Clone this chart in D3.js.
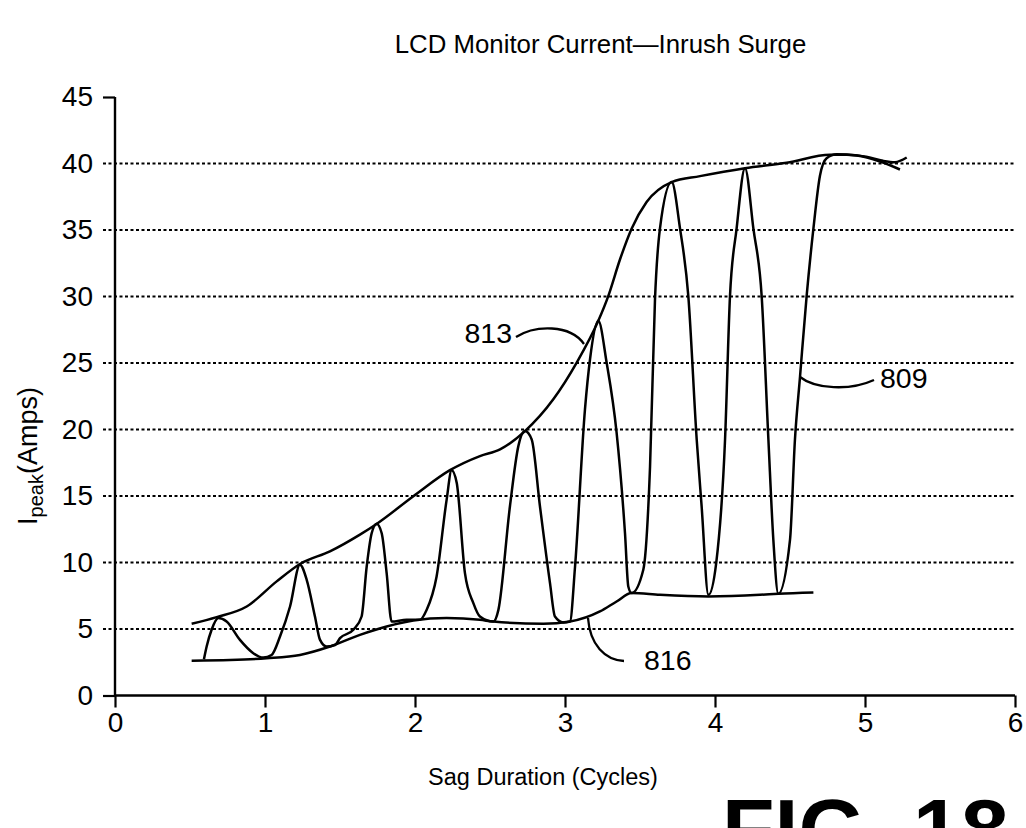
<!DOCTYPE html>
<html>
<head>
<meta charset="utf-8">
<script src="https://cdn.jsdelivr.net/npm/d3@7"></script>
<style>
  body { margin: 0; background: #fff; }
  text { font-family: 'Liberation Sans', Arial, sans-serif; fill: #000; }
</style>
</head>
<body>
<div id="graph"></div>
<script>
const xTicks = [0, 1, 2, 3, 4, 5, 6];
const yTicks = [0, 5, 10, 15, 20, 25, 30, 35, 40, 45];

// upper envelope (813)
const envelope813 = [
  [0.511, 5.39], [0.678, 5.89], [0.878, 6.69], [1.078, 8.58], [1.233, 9.89],
  [1.433, 10.84], [1.633, 12.1], [1.744, 12.9], [1.989, 14.98], [2.233, 16.94],
  [2.433, 18.0], [2.567, 18.5], [2.733, 19.88], [2.922, 22.27], [3.078, 25.03],
  [3.222, 28.17], [3.289, 30.05], [3.367, 32.8], [3.444, 35.1], [3.544, 37.1],
  [3.711, 38.6], [3.9, 39.05], [4.2, 39.65], [4.478, 40.05], [4.767, 40.65],
  [4.878, 40.65], [5.008, 40.5], [5.12, 40.2], [5.2, 40.1], [5.278, 40.45]
];

// lower envelope (816)
const envelope816 = [
  [0.511, 2.62], [0.767, 2.67], [1.011, 2.8], [1.233, 3.05], [1.433, 3.68],
  [1.633, 4.56], [1.811, 5.19], [1.989, 5.64], [2.211, 5.82], [2.433, 5.69],
  [2.522, 5.56], [2.856, 5.39], [3.033, 5.56], [3.233, 6.32], [3.344, 7.07],
  [3.444, 7.7], [3.633, 7.57], [3.956, 7.45], [4.3, 7.57], [4.422, 7.65],
  [4.656, 7.75]
];

// inrush current trace (809)
const current809 = [
  [0.593, 2.73], [0.611, 3.68], [0.644, 4.94], [0.689, 5.82], [0.744, 5.56],
  [0.833, 4.18], [0.922, 3.18], [0.989, 2.85], [1.044, 3.05], [1.1, 4.43],
  [1.167, 6.69], [1.233, 9.83], [1.278, 8.7], [1.333, 5.94], [1.367, 4.18],
  [1.411, 3.68], [1.467, 3.8], [1.5, 4.31], [1.589, 4.94], [1.644, 5.94],
  [1.678, 9.7], [1.711, 12.2], [1.744, 12.92], [1.778, 12.2], [1.811, 9.2],
  [1.844, 5.56], [1.944, 5.69], [2.033, 5.69], [2.078, 6.44], [2.144, 8.95],
  [2.211, 14.73], [2.244, 16.94], [2.278, 16.0], [2.333, 9.2], [2.389, 6.95],
  [2.433, 5.94], [2.522, 5.56], [2.556, 6.44], [2.633, 14.23], [2.689, 18.75],
  [2.733, 19.88], [2.778, 19.25], [2.833, 14.23], [2.9, 8.45], [2.933, 5.94],
  [2.989, 5.49], [3.033, 5.56], [3.067, 9.7], [3.133, 21.5], [3.167, 25.3],
  [3.222, 28.17], [3.278, 25.0], [3.344, 19.76], [3.4, 12.2], [3.422, 8.2],
  [3.444, 7.7], [3.522, 9.46], [3.567, 17.24], [3.6, 29.8], [3.633, 35.1],
  [3.711, 38.6], [3.767, 35.1], [3.822, 30.05], [3.878, 19.25], [3.911, 14.2],
  [3.956, 7.57], [4.008, 9.96], [4.067, 19.25], [4.1, 30.05], [4.144, 35.1],
  [4.2, 39.65], [4.256, 35.1], [4.311, 30.05], [4.356, 19.25], [4.389, 11.7],
  [4.422, 7.65], [4.5, 11.7], [4.533, 19.25], [4.567, 24.0], [4.611, 30.05],
  [4.656, 35.1], [4.7, 39.1], [4.744, 40.4], [4.811, 40.7], [4.944, 40.6],
  [5.1, 40.15], [5.233, 39.55]
];

const w = 1026;
const h = 828;

const svg = d3.select('#graph')
  .append('svg')
  .attr('width', w)
  .attr('height', h);

const xScale = d3.scaleLinear().domain([0, 6]).range([115, 1015]);
const yScale = d3.scaleLinear().domain([0, 45]).range([695.5, 97]);

// title
svg.append('text')
  .attr('x', 600.5)
  .attr('y', 53)
  .attr('text-anchor', 'middle')
  .style('font-size', '25.8px')
  .text('LCD Monitor Current\u2014Inrush Surge');

// dotted gridlines
svg.append('g')
  .selectAll('line')
  .data(yTicks.filter(d => d > 0 && d < 45))
  .enter()
  .append('line')
  .attr('x1', xScale(0) - 12)
  .attr('x2', xScale(6))
  .attr('y1', d => yScale(d))
  .attr('y2', d => yScale(d))
  .attr('stroke', '#000')
  .attr('stroke-width', 2)
  .attr('stroke-dasharray', '3,2.5');

const xAxis = d3.axisBottom(xScale).tickValues(xTicks).tickSize(12).tickPadding(5).tickFormat(d3.format('d'));
const yAxis = d3.axisLeft(yScale).tickValues(yTicks).tickSize(12).tickPadding(10).tickFormat(d3.format('d'));

const gx = svg.append('g')
  .attr('transform', 'translate(0,' + yScale(0) + ')')
  .call(xAxis);
const gy = svg.append('g')
  .attr('transform', 'translate(' + xScale(0) + ',0)')
  .call(yAxis);

[gx, gy].forEach(g => {
  g.select('.domain').attr('stroke', '#000').attr('stroke-width', 2.4)
  g.selectAll('.tick line').attr('stroke', '#000').attr('stroke-width', 2.2)
  g.selectAll('.tick text').style('font-size', '28px').style('font-family', "'Liberation Sans', Arial, sans-serif").attr('fill', '#000')
});
gx.select('.domain').attr('d', 'M' + xScale(0) + ',0H' + xScale(6));
gy.select('.domain').attr('d', 'M0,' + yScale(45) + 'V' + yScale(0));
// intermediate y ticks are part of the dotted gridlines
gy.selectAll('.tick line').filter(d => d > 0 && d < 45).remove();

// curves
const line = d3.line()
  .x(d => xScale(d[0]))
  .y(d => yScale(d[1]))
  .curve(d3.curveMonotoneX);

[envelope813, envelope816, current809].forEach(series => {
  svg.append('path')
    .datum(series)
    .attr('d', line)
    .attr('fill', 'none')
    .attr('stroke', '#000')
    .attr('stroke-width', 2.5)
    .attr('stroke-linejoin', 'round');
});

// reference numerals with leader lines
const leaders = [
  { text: '813', tx: 512, ty: 343, anchor: 'end', d: 'M516,337 C535,325 570,324 584,344' },
  { text: '809', tx: 880, ty: 388, anchor: 'start', d: 'M800,377 C815,389 850,391 874,380' },
  { text: '816', tx: 644, ty: 670, anchor: 'start', d: 'M588,618 C590,645 605,660 624,661' }
];
leaders.forEach(l => {
  svg.append('path')
    .attr('d', l.d)
    .attr('fill', 'none')
    .attr('stroke', '#000')
    .attr('stroke-width', 2.3);
  svg.append('text')
    .attr('x', l.tx)
    .attr('y', l.ty)
    .attr('text-anchor', l.anchor)
    .style('font-size', '28.5px')
    .text(l.text);
});

// axis titles
svg.append('text')
  .attr('x', 543)
  .attr('y', 785)
  .attr('text-anchor', 'middle')
  .style('font-size', '23.5px')
  .text('Sag Duration (Cycles)');

const yLabel = svg.append('text')
  .attr('transform', 'translate(37,456) rotate(-90)')
  .attr('text-anchor', 'middle')
  .style('font-size', '27px');
yLabel.append('tspan').text('I');
yLabel.append('tspan').attr('dy', 6).style('font-size', '20px').text('peak');
yLabel.append('tspan').attr('dy', -6).text('(Amps)');

// figure number, cut off by the page edge as in the source
svg.append('text')
  .attr('x', 722)
  .attr('y', 859)
  .style('font-size', '86px')
  .style('font-weight', 'bold')
  .text('FIG. 18');
</script>
</body>
</html>
